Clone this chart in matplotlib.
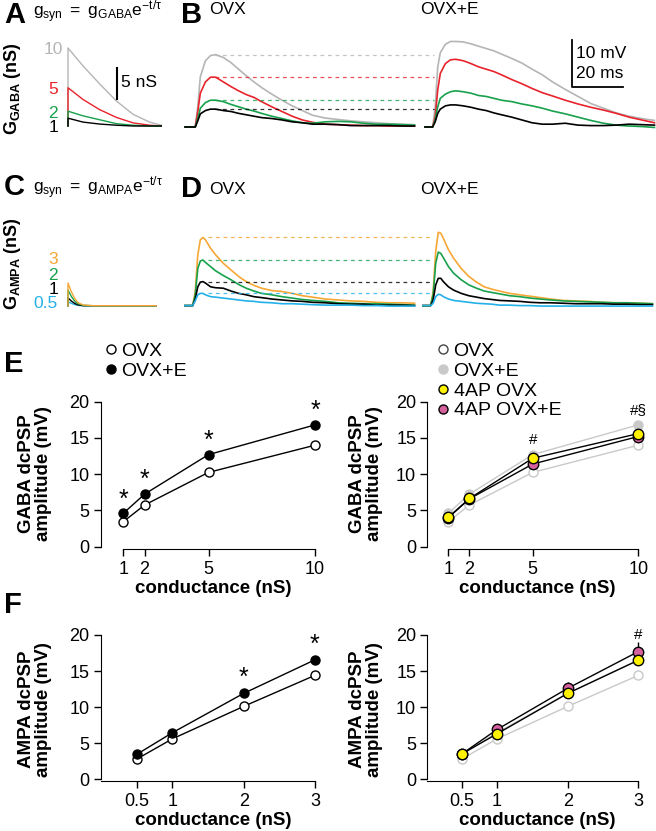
import numpy as np
import matplotlib.pyplot as plt
from matplotlib.lines import Line2D

plt.rcParams['font.family'] = ['Liberation Sans', 'DejaVu Sans']
plt.rcParams['mathtext.fontset'] = 'custom'
plt.rcParams['mathtext.rm'] = 'Liberation Sans'
plt.rcParams['mathtext.it'] = 'Liberation Sans'
plt.rcParams['mathtext.bf'] = 'Liberation Sans:bold'

W, H = 656, 831

GRAY = '#b5b5b5'
RED = '#e8232b'
GREEN = '#17a14c'
ORANGE = '#f6a735'
BLUE = '#23b1e8'
YELLOW = '#fff200'
PINK = '#d6619f'
LIGHT = '#c9c9c9'

# ---- A / C : conductance waveforms (nS) ----
a_t = [0, 0, 5.9, 12.4, 19.0, 25.5, 32.0, 36.6]
a_gray = [0, 10, 7.7, 5.4, 3.2, 1.5, 0.5, 0.1]
a_red = [0, 4.9, 3.4, 2.1, 1.1, 0.4, 0.1, 0]
a_green = [0, 1.9, 1.3, 0.8, 0.3, 0.1, 0, 0]
a_black = [0, 1.0, 0.5, 0.25, 0.1, 0, 0, 0]

c_t = [0, 0, 1.3, 2.6, 3.9, 5.9, 9.8, 34.6]
c_orange = [0, 2.9, 1.8, 0.95, 0.4, 0.1, 0, 0]
c_green = [0, 2.0, 1.2, 0.6, 0.25, 0.05, 0, 0]
c_black = [0, 1.0, 0.6, 0.3, 0.1, 0, 0, 0]
c_blue = [0, 0.5, 0.3, 0.15, 0.05, 0, 0, 0]

# ---- B : GABA dcPSP traces (mV) ----
b_t = [0, 3, 4, 5, 6, 8, 10, 12, 15, 18, 21, 24, 27, 30, 34, 38, 42, 46, 50,
       55, 60, 65, 70, 75, 80, 85, 90]
b_ovx_gray = [0, 0, 0, 4.3, 10.7, 14.1, 15.2, 15.4, 14.8, 13.7, 12.3, 10.9, 9.6, 8.4,
              7.0, 5.7, 4.5, 3.5, 2.5, 1.9, 1.6, 1.3, 1.1, 0.9, 0.7, 0.6, 0.5]
b_ovx_red = [0, 0, 0, 3.3, 7.2, 9.6, 10.6, 10.6, 9.6, 8.6, 7.7, 6.9, 6.3, 5.4,
             4.3, 3.3, 2.3, 1.5, 1.0, 0.6, 0.5, 0.4, 0.3, 0.3, 0.2, 0.3, 0.2]
b_ovx_green = [0, 0, 0, 1.8, 4.0, 5.2, 5.7, 5.7, 5.4, 4.8, 4.3, 3.8, 3.4, 2.9,
               2.3, 1.8, 1.3, 0.9, 0.8, 1.1, 1.2, 1.1, 0.8, 0.6, 0.6, 0.5, 0.4]
b_ovx_black = [0, 0, 0, 1.3, 2.8, 3.5, 3.8, 3.8, 3.5, 3.3, 2.9, 2.6, 2.3, 2.0,
               1.8, 1.5, 1.1, 0.9, 0.6, 0.6, 0.5, 0.3, 0.3, 0.3, 0.3, 0.2, 0.2]
b_e_gray = [0, 0, 4.3, 12.8, 15.8, 17.6, 18.2, 18.2, 18.1, 17.7, 17.2, 16.7, 16.2, 15.5,
            14.6, 13.6, 12.3, 11.1, 9.6, 8.0, 6.5, 5.0, 4.0, 3.0, 2.3, 1.8, 1.4]
b_e_red = [0, 0, 2.2, 7.9, 11.4, 13.5, 14.3, 14.4, 14.1, 13.5, 12.8, 12.3, 11.8, 11.1,
           10.1, 9.2, 8.2, 7.3, 6.6, 5.7, 4.9, 4.2, 3.6, 2.9, 2.1, 1.5, 0.9]
b_e_green = [0, 0, 1.5, 4.3, 6.1, 7.0, 7.5, 7.7, 7.5, 7.2, 6.7, 6.5, 6.1, 5.7,
             5.4, 4.9, 4.5, 4.0, 3.4, 2.8, 2.1, 1.4, 0.8, 0.4, 0.2, 0.1, -0.1]
b_e_black = [0, 0, 1.1, 2.9, 3.8, 4.5, 4.7, 4.7, 4.5, 4.2, 3.8, 3.5, 3.0, 2.6,
             2.1, 1.5, 0.9, 0.6, 0.6, 0.8, 0.4, 0.3, 0.3, 0.4, 0.6, 0.5, 0.4]

# ---- D : AMPA dcPSP traces (mV) ----
d_t = [0, 3, 4, 5, 6, 7, 8, 10, 12, 15, 18, 21, 24, 27, 30, 34, 38, 42, 46, 50,
       55, 60, 65, 70, 75, 80, 85, 90]
d_ovx_orange = [0, 0, 3.0, 10.8, 14.0, 14.5, 14.0, 12.2, 10.8, 9.0, 7.6, 6.2, 5.1, 4.3,
                3.7, 3.2, 3.0, 2.6, 2.1, 1.8, 1.4, 1.2, 1.0, 0.9, 0.7, 0.6, 0.6, 0.5]
d_ovx_green = [0, 0, 2.3, 7.9, 9.5, 9.7, 9.2, 8.3, 7.4, 6.4, 5.5, 4.5, 3.7, 3.1,
               2.6, 2.3, 1.9, 1.6, 1.3, 1.1, 0.9, 0.6, 0.5, 0.4, 0.4, 0.3, 0.2, 0.1]
d_ovx_black = [0, 0, 1.4, 4.0, 5.0, 5.1, 4.8, 4.0, 3.8, 3.7, 3.1, 2.6, 2.3, 1.9,
               1.7, 1.4, 1.2, 1.0, 0.9, 0.7, 0.6, 0.4, 0.3, 0.3, 0.1, 0.1, 0.1, 0.0]
d_ovx_blue = [0, 0, 1.0, 2.3, 2.6, 2.6, 2.3, 1.9, 1.8, 1.6, 1.4, 1.2, 1.0, 0.9,
              0.7, 0.6, 0.4, 0.4, 0.3, 0.2, 0.1, 0.1, 0.1, 0.0, 0.0, -0.1, -0.1, -0.1]
d_e_orange = [0, 0, 3.0, 11.5, 15.6, 15.4, 14.3, 11.9, 10.1, 7.9, 6.2, 5.0, 4.0, 3.5,
              3.1, 2.6, 2.3, 2.0, 1.7, 1.4, 1.1, 1.0, 0.9, 0.7, 0.6, 0.6, 0.5, 0.4]
d_e_green = [0, 0, 2.3, 9.0, 11.4, 11.1, 10.2, 8.3, 6.9, 5.5, 4.4, 3.7, 3.1, 2.8,
             2.5, 2.1, 1.9, 1.6, 1.4, 1.2, 1.0, 0.9, 0.8, 0.7, 0.6, 0.6, 0.5, 0.4]
d_e_black = [0, 0, 1.2, 4.4, 5.8, 5.8, 5.1, 4.0, 3.3, 2.6, 2.1, 1.8, 1.5, 1.3,
             1.1, 1.0, 0.9, 0.7, 0.6, 0.6, 0.5, 0.4, 0.4, 0.4, 0.3, 0.3, 0.2, 0.2]
d_e_blue = [0, 0, 0.5, 1.9, 2.4, 2.3, 1.9, 1.4, 1.1, 0.9, 0.7, 0.5, 0.4, 0.3,
            0.1, 0.1, 0.0, 0.0, -0.1, -0.1, -0.1, -0.1, -0.1, -0.1, -0.1, -0.1, -0.1, -0.1]

# ---- E / F : summary amplitudes (mV) ----
e_x = [1, 2, 5, 10]
e_ovx = [3.45, 5.75, 10.25, 14.0]
e_ovxe = [4.6, 7.25, 12.7, 16.8]
e_4ap_ovx = [4.05, 6.65, 12.2, 15.6]
e_4ap_ovxe = [4.0, 6.6, 11.4, 15.2]
e_4ap_sem = [0.2, 0.3, 0.4, 0.4]

f_x = [0.5, 1, 2, 3]
f_ovx = [2.8, 5.6, 10.1, 14.4]
f_ovxe = [3.45, 6.45, 11.9, 16.55]
f_4ap_ovx = [3.5, 6.3, 11.9, 16.5]
f_4ap_ovxe = [3.5, 6.9, 12.6, 17.7]
f_4ap_ovxe_sem = [0.2, 0.3, 0.9, 1.3]

fig = plt.figure(figsize=(W / 100, H / 100), dpi=100)


def box(x0, y0, x1, y1):
    return [x0 / W, 1 - y1 / H, (x1 - x0) / W, (y1 - y0) / H]


def ftext(x, y, s, **kw):
    kw.setdefault('va', 'center')
    return fig.text(x / W, 1 - y / H, s, **kw)


# panel letters and headers
for lab, x, y in [('A', 4, 15), ('B', 181, 15), ('C', 4, 187), ('D', 181, 189),
                  ('E', 4, 364), ('F', 4, 605)]:
    ftext(x, y, lab, fontsize=21, fontweight='bold')
ftext(33, 12, r'$\mathregular{g_{syn}\ =\ g_{GABA}e^{-t/\tau}}$', fontsize=12.5)
ftext(33, 188, r'$\mathregular{g_{syn}\ =\ g_{AMPA}e^{-t/\tau}}$', fontsize=12.5)
ftext(209, 10, 'OVX', fontsize=12.5)
ftext(420, 10, 'OVX+E', fontsize=12.5)
ftext(209, 190, 'OVX', fontsize=12.5)
ftext(420, 190, 'OVX+E', fontsize=12.5)

# ---- A ----
axA = fig.add_axes(box(0, 40, 175, 135))
axA.set_axis_off()
axA.set_xlim(-68 / 2.55, 107 / 2.55)
axA.set_ylim(-9 / 7.8, 86 / 7.8)
for y, c in [(a_gray, GRAY), (a_red, RED), (a_green, GREEN), (a_black, 'k')]:
    axA.plot(a_t, y, color=c, lw=1.0)
axA.plot([19.2, 19.2], [3.5, 7.5], color='k', lw=1.5)
axA.text(20.8, 5.6, '5 nS', fontsize=12.5, va='center')
for lab, c, yy in [('10', GRAY, 49), ('5', RED, 90), ('2', GREEN, 113), ('1', 'k', 128)]:
    ftext(53, yy, lab, color=c, fontsize=12.5, ha='center')
ftext(13, 89, r'$\mathbf{G_{GABA}}$ (nS)', fontsize=13, fontweight='bold',
      rotation=90, ha='center')

# ---- C ----
axC = fig.add_axes(box(0, 215, 175, 315))
axC.set_axis_off()
axC.set_xlim(-68 / 2.55, 107 / 2.55)
axC.set_ylim(-9.3 / 7.8, 90.7 / 7.8)
for y, c in [(c_blue, BLUE), (c_black, 'k'), (c_green, GREEN), (c_orange, ORANGE)]:
    axC.plot(c_t, y, color=c, lw=1.0)
for lab, c, yy in [('3', ORANGE, 259), ('2', GREEN, 275), ('1', 'k', 289), ('0.5', BLUE, 304)]:
    ftext(58, yy, lab, color=c, fontsize=12.5, ha='right')
ftext(13, 264, r'$\mathbf{G_{AMPA}}$ (nS)', fontsize=13, fontweight='bold',
      rotation=90, ha='center')

# ---- B ----
axB = fig.add_axes(box(183, 30, 656, 135))
axB.set_axis_off()
axB.set_xlim(0, 473 / 2.55)
axB.set_ylim(-8 / 4.7, 97 / 4.7)
t_ovx = np.array(b_t) + 0.8
t_e = np.array(b_t) + 94.9
for yo, ye, c in [(b_ovx_gray, b_e_gray, GRAY), (b_ovx_red, b_e_red, RED),
                  (b_ovx_green, b_e_green, GREEN), (b_ovx_black, b_e_black, 'k')]:
    axB.plot(t_ovx, yo, color=c, lw=1.2)
    axB.plot(t_e, ye, color=c, lw=1.2)
    axB.plot([12.5, 98.4], [max(yo)] * 2, color=c, lw=0.9, ls=(0, (3, 3)), alpha=0.8)
axB.plot([152.5, 152.5, 172.5], [18.5, 8.5, 8.5], color='k', lw=1.3)
axB.text(154.3, 15.6, '10 mV', fontsize=12.5, va='center')
axB.text(154.3, 11.4, '20 ms', fontsize=12.5, va='center')

# ---- D ----
axD = fig.add_axes(box(183, 225, 656, 315))
axD.set_axis_off()
axD.set_xlim(0, 473 / 2.55)
axD.set_ylim(-9.4 / 4.7, 80.6 / 4.7)
t_ovx = np.array(d_t) + 0.8
t_e = np.array(d_t) + 94.1
for yo, ye, c in [(d_ovx_orange, d_e_orange, ORANGE), (d_ovx_green, d_e_green, GREEN),
                  (d_ovx_black, d_e_black, 'k'), (d_ovx_blue, d_e_blue, BLUE)]:
    axD.plot(t_ovx, yo, color=c, lw=1.2)
    axD.plot(t_e, ye, color=c, lw=1.2)
    axD.plot([9.8, 98.0], [max(yo)] * 2, color=c, lw=0.9, ls=(0, (3, 3)), alpha=0.8)


# ---- E / F summary axes ----
def summary_axes(rect, xlim, ylim, xticks, xbounds, xlabels, ylabel, ylab_xy):
    ax = fig.add_axes(rect)
    ax.set_xlim(*xlim)
    ax.set_ylim(*ylim)
    for s in ['top', 'right']:
        ax.spines[s].set_visible(False)
    ax.spines['left'].set_bounds(0, 20)
    ax.spines['bottom'].set_bounds(*xbounds)
    ax.set_yticks([0, 5, 10, 15, 20])
    ax.set_xticks(xticks)
    ax.set_xticklabels(xlabels)
    ax.tick_params(labelsize=13, length=5, width=1, pad=3)
    ax.tick_params(axis='x', pad=4)
    ax.set_xlabel('conductance (nS)', fontsize=13.5, fontweight='bold', labelpad=1)
    ax.set_ylabel(ylabel, fontsize=13.5, fontweight='bold', linespacing=1.05)
    ax.yaxis.set_label_coords(*ylab_xy)
    return ax


def star(ax, x, y, s, dy=11, size=16):
    for xi, yi in zip(x, y):
        ax.annotate(s, (xi, yi), xytext=(0, dy), textcoords='offset points',
                    ha='center', va='center', fontsize=size)


mk = dict(ms=6.5, mew=1.0, lw=1.0)
e_ylim = (-2.3 / 7.25, 151.7 / 7.25)
f_ylim = (-1.7 / 7.22, 151.3 / 7.22)

# E left
ax = summary_axes(box(100.7, 395, 325, 549), (1 - 22.6 / 21.3, 1 + 201.7 / 21.3), e_ylim,
                  e_x, (1, 10), ['1', '2', '5', '10'], 'GABA dcPSP\namplitude (mV)',
                  (-0.215, 0.49))
ax.plot(e_x, e_ovx, 'o-', color='k', mfc='white', mec='k', **mk)
ax.plot(e_x, e_ovxe, 'o-', color='k', mfc='k', mec='k', **mk)
star(ax, e_x, e_ovxe, '*', dy=10, size=18)
ax.legend(handles=[Line2D([], [], ls='', marker='o', mfc='white', mec='k', ms=6.5),
                   Line2D([], [], ls='', marker='o', mfc='k', mec='k', ms=6.5)],
          labels=['OVX', 'OVX+E'], loc='upper left', bbox_to_anchor=(106 / W, 1 - 342 / H),
          bbox_transform=fig.transFigure, frameon=False, fontsize=14,
          handlelength=0.5, handletextpad=0.3, labelspacing=0.12, borderpad=0, borderaxespad=0)

# E right
ax = summary_axes(box(427.3, 395, 648, 549), (1 - 21 / 21.1, 1 + 199.7 / 21.1), e_ylim,
                  e_x, (1, 10), ['1', '2', '5', '10'], 'GABA dcPSP\namplitude (mV)',
                  (-0.2, 0.49))
ax.plot(e_x, e_ovx, 'o-', color=LIGHT, mfc='white', mec=LIGHT, **mk)
ax.plot(e_x, e_ovxe, 'o-', color=LIGHT, mfc=LIGHT, mec=LIGHT, **mk)
ax.errorbar(e_x, e_4ap_ovxe, yerr=e_4ap_sem, fmt='o-', color='k', mfc=PINK, mec='k',
            ms=7.5, mew=1.0, lw=1.0, capsize=0, zorder=3)
ax.errorbar(e_x, e_4ap_ovx, yerr=e_4ap_sem, fmt='o-', color='k', mfc=YELLOW, mec='k',
            ms=7.5, mew=1.0, lw=1.0, capsize=0, zorder=4)
star(ax, [5], [e_4ap_ovx[2] + 0.4], '#', dy=11, size=11)
star(ax, [10], [e_ovxe[3]], '#§', dy=11, size=11)
ax.legend(handles=[Line2D([], [], ls='', marker='o', mfc='white', mec='#444444', ms=6.5),
                   Line2D([], [], ls='', marker='o', mfc=LIGHT, mec=LIGHT, ms=6.5),
                   Line2D([], [], ls='', marker='o', mfc=YELLOW, mec='k', ms=6.5),
                   Line2D([], [], ls='', marker='o', mfc=PINK, mec='k', ms=6.5)],
          labels=['OVX', 'OVX+E', '4AP OVX', '4AP OVX+E'], loc='upper left',
          bbox_to_anchor=(438 / W, 1 - 342 / H),
          bbox_transform=fig.transFigure, frameon=False, fontsize=14,
          handlelength=0.5, handletextpad=0.3, labelspacing=0.12, borderpad=0, borderaxespad=0)

# F left
f_xlim = (0.5 - 36 / 71.3, 0.5 + 188.3 / 71.3)
ax = summary_axes(box(100.7, 628, 325, 781), f_xlim, f_ylim,
                  f_x, (f_xlim[0], 3), ['0.5', '1', '2', '3'], 'AMPA dcPSP\namplitude (mV)',
                  (-0.215, 0.47))
ax.plot(f_x, f_ovx, 'o-', color='k', mfc='white', mec='k', **mk)
ax.plot(f_x, f_ovxe, 'o-', color='k', mfc='k', mec='k', **mk)
star(ax, f_x[2:], f_ovxe[2:], '*', dy=11, size=18)

# F right
fr_xlim = (0.5 - 34.4 / 70.7, 0.5 + 186.3 / 70.7)
ax = summary_axes(box(427.3, 628, 648, 781), fr_xlim, f_ylim,
                  f_x, (fr_xlim[0], 3), ['0.5', '1', '2', '3'], 'AMPA dcPSP\namplitude (mV)',
                  (-0.2, 0.47))
ax.plot(f_x, f_ovx, 'o-', color=LIGHT, mfc='white', mec=LIGHT, **mk)
ax.plot(f_x, f_ovxe, 'o-', color=LIGHT, mfc=LIGHT, mec=LIGHT, **mk)
ax.errorbar(f_x, f_4ap_ovxe, yerr=f_4ap_ovxe_sem, fmt='o-', color='k', mfc=PINK, mec='k',
            ms=7.5, mew=1.0, lw=1.0, capsize=0, zorder=3)
ax.plot(f_x, f_4ap_ovx, 'o-', color='k', mfc=YELLOW, mec='k', ms=7.5, mew=1.0, lw=1.0,
        zorder=4)
star(ax, [3], [f_4ap_ovxe[3] + f_4ap_ovxe_sem[3]], '#', dy=5, size=11)

fig.savefig('out.png', dpi=100)
